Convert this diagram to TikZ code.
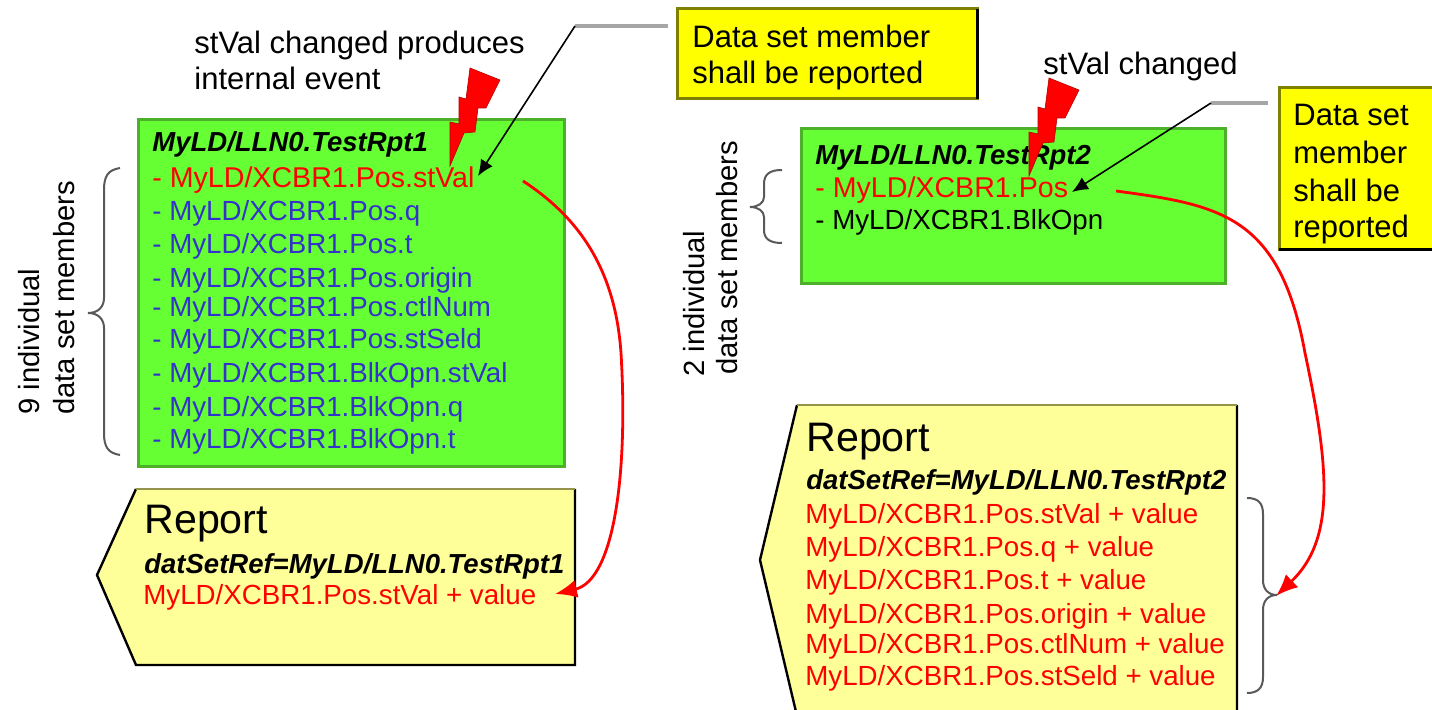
\documentclass[tikz,border=0pt]{standalone}
\usepackage{fontspec}
\setmainfont{Liberation Sans}
\usepackage{tikz}
\usetikzlibrary{arrows.meta}
\definecolor{setgreen}{HTML}{66FF33}
\definecolor{setedge}{HTML}{4CB02A}
\definecolor{noteyellow}{HTML}{FFFF00}
\definecolor{noteedge}{HTML}{808000}
\definecolor{reportyellow}{HTML}{FFFF99}
\definecolor{memberblue}{HTML}{3333CC}

\begin{document}
\begin{tikzpicture}
    [ x = .5pt, y = -.5pt
    , line/.style =
      { anchor=west, inner sep=0pt, text height=.72em, text depth=.2em, font=\fontsize{13.85}{16}\selectfont }
    , member/.style =
      { line, text=memberblue }
    , hit/.style =
      { line, text=red }
    , changed/.style =
      { hit, font=\fontsize{14.3}{16}\selectfont }
    , title/.style =
      { line, font=\fontsize{13.75}{16}\selectfont\bfseries\itshape }
    , caption/.style =
      { line, font=\fontsize{15.5}{18}\selectfont }
    , heading/.style =
      { line, font=\fontsize{20.6}{24}\selectfont }
    , sideways/.style =
      { line, rotate=90, font=\fontsize{14.6}{18}\selectfont }
    , dataset/.style =
      { draw=setedge, fill=setgreen, line width=1.5pt, anchor=north west, inner sep=0pt, outer sep=0pt }
    , note/.style =
      { draw=noteedge, fill=noteyellow, line width=1.5pt, anchor=north west, inner sep=0pt, outer sep=0pt }
    , report/.style =
      { draw=black, fill=reportyellow, line width=1.2pt }
    , bolt/.style =
      { fill=red, draw=red!70!black, line width=.3pt }
    , leader/.style =
      { draw=black!35, line width=1.8pt }
    , pointer/.style =
      { black, line width=.8pt, -{Latex[length=8pt,width=7pt]} }
    , flow/.style =
      { red, line width=1.4pt, -{Latex[length=11pt,width=9pt]} }
    , bracket/.style =
      { black!65, line width=1pt }
    ]
    \clip (0,0) rectangle (1432,710);

    % left data set
    \node [dataset, minimum width=213pt, minimum height=173.5pt] (set1) at (138,120) {};
    \node [title] (title1) at (152,146) {MyLD/LLN0.TestRpt1};
    \node [changed] (m10) at (152,182) {- MyLD/XCBR1.Pos.stVal};
    \node [member] (m11) at (152,215) {- MyLD/XCBR1.Pos.q};
    \node [member] (m12) at (152,248) {- MyLD/XCBR1.Pos.t};
    \node [member] (m13) at (152,282) {- MyLD/XCBR1.Pos.origin};
    \node [member] (m14) at (152,311) {- MyLD/XCBR1.Pos.ctlNum};
    \node [member] (m15) at (152,343) {- MyLD/XCBR1.Pos.stSeld};
    \node [member] (m16) at (152,377) {- MyLD/XCBR1.BlkOpn.stVal};
    \node [member] (m17) at (152,411) {- MyLD/XCBR1.BlkOpn.q};
    \node [member] (m18) at (152,443) {- MyLD/XCBR1.BlkOpn.t};

    \node [caption] (event1) at (194,48) {stVal changed produces};
    \node [caption] (event2) at (194,84) {internal event};
    \node [sideways] (count1) at (34,415) {9 individual};
    \node [sideways] (count2) at (69,415) {data set members};

    \coordinate (brace1a) at (120,168);
    \coordinate (brace1b) at (88,313);
    \coordinate (brace1c) at (120,455);
    \draw [bracket] (brace1a) .. controls (108,170) and (104,176) .. (104,190) -- (104,298)
      .. controls (104,307) and (98,313) .. (brace1b) .. controls (98,313) and (104,319) .. (104,328)
      -- (104,433) .. controls (104,447) and (108,453) .. (brace1c);

    % right data set
    \node [dataset, minimum width=212pt, minimum height=77.5pt] (set2) at (801,129) {};
    \node [title] (title2) at (815,159) {MyLD/LLN0.TestRpt2};
    \node [changed] (m20) at (815,192) {- MyLD/XCBR1.Pos};
    \node [line] (m21) at (815,224) {- MyLD/XCBR1.BlkOpn};

    \node [caption] (event3) at (1043,69) {stVal changed};
    \node [sideways] (count3) at (699,377) {2 individual};
    \node [sideways] (count4) at (732,375) {data set members};

    \coordinate (brace2a) at (782,170);
    \coordinate (brace2b) at (750,207);
    \coordinate (brace2c) at (782,243);
    \draw [bracket] (brace2a) .. controls (770,170) and (764,174) .. (764,184) -- (764,197)
      .. controls (764,203) and (758,207) .. (brace2b) .. controls (758,207) and (764,211) .. (764,217)
      -- (764,230) .. controls (764,239) and (770,243) .. (brace2c);

    % reports
    \path [report, draw=none] (136,489) -- (575,489) -- (575,665) -- (136,665) -- (97,575) -- cycle;
    \draw [report, fill=none] (575,489) -- (575,665) -- (136,665) -- (97,575) -- (136,489);
    \draw [report, fill=none, draw=noteedge!80!black!70] (136,489) -- (575,489);
    \node [heading] (head1) at (144,528) {Report};
    \node [title] (ref1) at (144,568) {datSetRef=MyLD/LLN0.TestRpt1};
    \node [hit] (val1) at (143,599) {MyLD/XCBR1.Pos.stVal + value};

    \path [report, draw=none] (797,405) -- (1237,405) -- (1237,716) -- (797,716) -- (760,560) -- cycle;
    \draw [report, fill=none] (1237,405) -- (1237,716) (797,716) -- (760,560) -- (797,405);
    \draw [report, fill=none, draw=noteedge!80!black!70] (797,405) -- (1237,405);
    \node [heading] (head2) at (806,446) {Report};
    \node [title] (ref2) at (806,484) {datSetRef=MyLD/LLN0.TestRpt2};
    \node [hit] (val20) at (805,518) {MyLD/XCBR1.Pos.stVal + value};
    \node [hit] (val21) at (805,551) {MyLD/XCBR1.Pos.q + value};
    \node [hit] (val22) at (805,584) {MyLD/XCBR1.Pos.t + value};
    \node [hit] (val23) at (805,618) {MyLD/XCBR1.Pos.origin + value};
    \node [hit] (val24) at (805,648) {MyLD/XCBR1.Pos.ctlNum + value};
    \node [hit] (val25) at (805,680) {MyLD/XCBR1.Pos.stSeld + value};

    \coordinate (brace3a) at (1247,498);
    \coordinate (brace3b) at (1277,595);
    \coordinate (brace3c) at (1247,693);
    \draw [bracket] (brace3a) .. controls (1258,498) and (1263,503) .. (1263,514) -- (1263,580)
      .. controls (1263,589) and (1268,595) .. (brace3b) .. controls (1268,595) and (1263,601) .. (1263,610)
      -- (1263,677) .. controls (1263,688) and (1258,693) .. (brace3c);

    % notes
    \node [note, minimum width=150pt, minimum height=45pt] (note1) at (677,9) {};
    \draw [black, line width=1.5pt] (note1.north east) -- (note1.south east);
    \node [caption] (note1a) at (692,42) {Data set member};
    \node [caption] (note1b) at (692,78) {shall be reported};

    \node [note, minimum width=90pt, minimum height=81pt] (note2) at (1279,88) {};
    \draw [black, line width=1.5pt] (note2.south west) -- (note2.south east);
    \node [caption] (note2a) at (1293,120) {Data set};
    \node [caption] (note2b) at (1293,158) {member};
    \node [caption] (note2c) at (1293,196) {shall be};
    \node [caption] (note2d) at (1293,232) {reported};

    % bolts
    \draw [bolt] (470,68) -- (500,80) -- (486,108) -- (478,108) -- (475,132) -- (464,133)
      -- (450,166) -- (450,122) -- (459,124) -- (459,97) -- (466,99) -- cycle;
    \draw [bolt, shift={(579,10)}] (470,68) -- (500,80) -- (486,108) -- (478,108) -- (475,132) -- (464,133)
      -- (450,166) -- (450,122) -- (459,124) -- (459,97) -- (466,99) -- cycle;

    % leaders
    \coordinate (bend1) at (575,26);
    \coordinate (end1) at (668,26);
    \coordinate (tip1) at (478,176);
    \draw [leader] (end1) -- (bend1);
    \draw [pointer] (bend1) -- (tip1);

    \coordinate (bend2) at (1211,103);
    \coordinate (end2) at (1268,103);
    \coordinate (tip2) at (1072,192);
    \draw [leader] (end2) -- (bend2);
    \draw [pointer] (bend2) -- (tip2);

    % flows
    \coordinate (from1) at (523,181);
    \coordinate (mid1) at (621,353);
    \coordinate (to1) at (555,594);
    \draw [flow] (from1) .. controls (575,215) and (615,265) .. (mid1)
      .. controls (628,470) and (615,580) .. (to1);

    \coordinate (from2) at (1116,191);
    \coordinate (mid2) at (1305,353);
    \coordinate (to2) at (1276,596);
    \draw [flow] (from2) .. controls (1220,205) and (1280,215) .. (mid2)
      .. controls (1330,470) and (1335,540) .. (to2);
\end{tikzpicture}
\end{document}
